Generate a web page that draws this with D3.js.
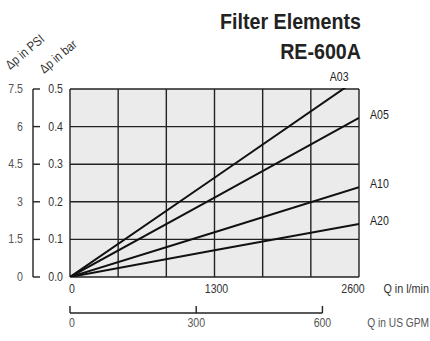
<!DOCTYPE html>
<html><head><meta charset="utf-8">
<script src="https://cdn.jsdelivr.net/npm/d3@7"></script>
<style>
html,body{margin:0;padding:0;background:#fff;}
svg{display:block;}
text{font-family:"Liberation Sans",Arial,sans-serif;}
</style></head>
<body>
<script>
// ---- data ----
const flowLmin = [0, 1300, 2600];
const seriesNames = ["A03", "A05", "A10", "A20"];
const A03 = [0, 0.264, 0.529];
const A05 = [0, 0.211, 0.423];
const A10 = [0, 0.119, 0.239];
const A20 = [0, 0.071, 0.141];
const seriesValues = [A03, A05, A10, A20];
const barTicks = [0.0, 0.1, 0.2, 0.3, 0.4, 0.5];
const psiTicks = [0, 1.5, 3, 4.5, 6, 7.5];
const lminTicks = [0, 1300, 2600];
const gpmTicks = [0, 300, 600];
const titleLines = ["Filter Elements", "RE-600A"];

const W = 430, H = 341;
const L = 70, R = 359, T = 89, B = 277;
const svg = d3.select("body").append("svg").attr("width", W).attr("height", H);

const x = d3.scaleLinear().domain([0, 2600]).range([L, R]);
const y = d3.scaleLinear().domain([0, 0.5]).range([B, T]);
const yPsi = d3.scaleLinear().domain([0, 7.5]).range([B, T]);
const xGpm = d3.scaleLinear().domain([0, 2600 / 3.785]).range([L, R]);

// condensed text helper
function ntext(parent, o) {
  const g = parent.append("g")
    .attr("transform", `translate(${o.x},${o.y})` + (o.rotate ? ` rotate(${o.rotate})` : "") + ` scale(${o.sx || 0.88},1)`);
  const t = g.append("text")
    .attr("text-anchor", o.anchor || "start")
    .attr("font-size", o.size || 12)
    .attr("font-weight", o.weight || "normal")
    .attr("fill", o.fill || "#333")
    .text(o.text);
  return t;
}

// plot background
svg.append("rect").attr("x", L).attr("y", T).attr("width", R - L).attr("height", B - T).attr("fill", "#ebebeb");

// grid
const gridX = d3.range(0, 2601, 2600 / 6);
svg.append("g").selectAll("line").data(gridX).join("line")
  .attr("x1", d => x(d)).attr("x2", d => x(d)).attr("y1", T).attr("y2", B)
  .attr("stroke", "#222").attr("stroke-width", 1.4);
svg.append("g").selectAll("line").data(barTicks).join("line")
  .attr("x1", L).attr("x2", R).attr("y1", d => y(d)).attr("y2", d => y(d))
  .attr("stroke", "#222").attr("stroke-width", 1.4);

// series
svg.append("clipPath").attr("id", "clip").append("rect")
  .attr("x", L).attr("y", T - 1).attr("width", R - L).attr("height", B - T + 1);
const line = d3.line().x(d => x(d[0])).y(d => y(d[1]));
const g = svg.append("g").attr("clip-path", "url(#clip)");
seriesValues.forEach(vals => {
  g.append("path").datum(flowLmin.map((q, i) => [q, vals[i]]))
    .attr("d", line).attr("fill", "none").attr("stroke", "#111").attr("stroke-width", 2);
});

// series labels
seriesNames.forEach((name, i) => {
  const vals = seriesValues[i];
  const last = vals[vals.length - 1];
  if (last > 0.5) {
    const qTop = 0.5 / last * 2600;
    ntext(svg, {x: x(qTop) - 4, y: y(0.5) - 8, text: name, anchor: "middle", fill: "#222"});
  } else {
    ntext(svg, {x: x(2600) + 11, y: y(last) + 1, text: name, fill: "#222"});
  }
});

// PSI axis
const axX = 33;
svg.append("line").attr("x1", axX).attr("x2", axX).attr("y1", yPsi(7.5)).attr("y2", yPsi(0))
  .attr("stroke", "#222").attr("stroke-width", 1.4);
svg.append("g").selectAll("line").data(psiTicks).join("line")
  .attr("x1", axX).attr("x2", axX + 7).attr("y1", d => yPsi(d)).attr("y2", d => yPsi(d))
  .attr("stroke", "#222").attr("stroke-width", 1.4);
psiTicks.forEach(d => ntext(svg, {x: 23, y: yPsi(d) + 4, text: String(d), anchor: "end", fill: "#555"}));
// bar labels
barTicks.forEach(d => ntext(svg, {x: 63, y: y(d) + 4, text: d.toFixed(1), anchor: "end", fill: "#333"}));

// rotated axis titles
ntext(svg, {x: 10, y: 70, rotate: -40, text: "Δp in PSI", size: 13, sx: 0.85, fill: "#333"});
ntext(svg, {x: 44, y: 74, rotate: -40, text: "Δp in bar", size: 13, sx: 0.85, fill: "#333"});

// l/min labels
const lminOff = [2, 2, -6];
lminTicks.forEach((d, i) => ntext(svg, {x: x(d) + lminOff[i], y: 293, text: String(d), anchor: "middle"}));
ntext(svg, {x: 429, y: 293, text: "Q in l/min", anchor: "end", sx: 0.9});

// GPM axis
const gy = 313;
svg.append("line").attr("x1", xGpm(0)).attr("x2", xGpm(600)).attr("y1", gy).attr("y2", gy)
  .attr("stroke", "#222").attr("stroke-width", 1.4);
svg.append("g").selectAll("line").data(gpmTicks).join("line")
  .attr("x1", d => xGpm(d)).attr("x2", d => xGpm(d)).attr("y1", gy - 7).attr("y2", gy)
  .attr("stroke", "#222").attr("stroke-width", 1.4);
gpmTicks.forEach((d, i) => ntext(svg, {x: xGpm(d) + (i === 0 ? 2 : 0), y: 327, text: String(d), anchor: "middle", fill: "#555"}));
ntext(svg, {x: 429, y: 327, text: "Q in US GPM", anchor: "end", sx: 0.85, fill: "#555"});

// title
ntext(svg, {x: 361, y: 29, text: titleLines[0], anchor: "end", size: 22, weight: "bold", sx: 0.894, fill: "#222"});
ntext(svg, {x: 361, y: 59, text: titleLines[1], anchor: "end", size: 22, weight: "bold", sx: 0.894, fill: "#222"});
</script>
</body></html>
